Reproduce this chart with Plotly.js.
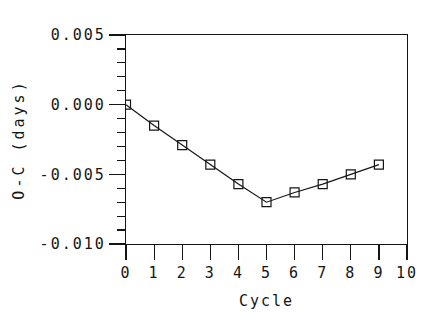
<!DOCTYPE html>
<html>
<head>
<meta charset="utf-8">
<script src="https://cdn.plot.ly/plotly-3.0.1.min.js"></script>
<style>
html,body{margin:0;padding:0;background:#fff;}
#chart{width:445px;height:323px;}
.xtick text, .ytick text, .g-xtitle text { letter-spacing: 2px; }
.g-ytitle text { letter-spacing: 3px; }
</style>
</head>
<body>
<div id="chart"></div>
<script>
const cycles = [0, 1, 2, 3, 4, 5, 6, 7, 8, 9];
const oc = [0.0000, -0.0015, -0.0029, -0.0043, -0.0057, -0.0070, -0.0063, -0.0057, -0.0050, -0.0043];
const yTickVals = [-0.010, -0.005, 0.000, 0.005];
const yTickText = ["-0.010", "-0.005", "0.000", "0.005"];
const xTickVals = [0, 1, 2, 3, 4, 5, 6, 7, 8, 9, 10];
const xTickText = ["0", "1", "2", "3", "4", "5", "6", "7", "8", "9", "10"];

const ink = '#151515';
const fontFam = '"DejaVu Sans Mono", monospace';

const trace = {
  x: cycles,
  y: oc,
  mode: 'lines+markers',
  line: {color: ink, width: 1.2},
  marker: {symbol: 'square-open', size: 9, color: ink, line: {color: ink, width: 1.2}},
  showlegend: false,
  hoverinfo: 'skip'
};

const layout = {
  width: 445,
  height: 323,
  margin: {l: 126, r: 38, t: 35, b: 79},
  paper_bgcolor: '#fff',
  plot_bgcolor: '#fff',
  font: {family: fontFam, size: 15, color: ink},
  xaxis: {
    range: [0, 10],
    tickvals: xTickVals,
    ticktext: xTickText,
    ticks: 'outside',
    ticklen: 15,
    tickwidth: 1.2,
    tickcolor: ink,
    showgrid: false,
    zeroline: false,
    showline: true,
    linecolor: ink,
    linewidth: 1.2,
    mirror: true,
    title: {text: 'Cycle', font: {family: fontFam, size: 15, color: ink}, standoff: 14},
    tickfont: {family: fontFam, size: 15, color: ink}
  },
  yaxis: {
    range: [-0.010, 0.005],
    tickvals: yTickVals,
    ticktext: yTickText,
    ticks: 'outside',
    ticklen: 16,
    tickwidth: 1.2,
    tickcolor: ink,
    minor: {dtick: 0.001, ticks: 'outside', ticklen: 8, tickwidth: 1.2, tickcolor: ink, showgrid: false},
    showgrid: false,
    zeroline: false,
    showline: true,
    linecolor: ink,
    linewidth: 1.2,
    mirror: true,
    title: {text: 'O-C (days)', font: {family: fontFam, size: 15, color: ink}, standoff: 11},
    tickfont: {family: fontFam, size: 15, color: ink}
  }
};

Plotly.newPlot('chart', [trace], layout, {staticPlot: true, displayModeBar: false});
</script>
</body>
</html>
